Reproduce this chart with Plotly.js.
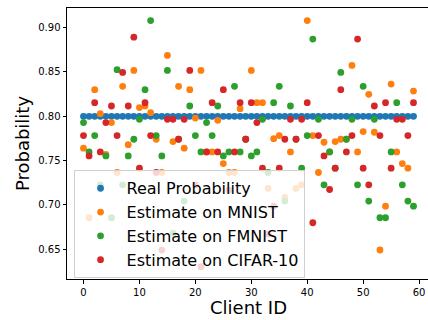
<!DOCTYPE html>
<html>
<head>
<meta charset="utf-8">
<script src="https://cdn.plot.ly/plotly-3.0.1.min.js"></script>
<style>
html,body{margin:0;padding:0;overflow:hidden;background:#fff;}
#chart{width:431px;height:320px;}
</style>
</head>
<body>
<div id="chart"></div>
<script>
var clientIds = [0,1,2,3,4,5,6,7,8,9,10,11,12,13,14,15,16,17,18,19,20,21,22,23,24,25,26,27,28,29,
                 30,31,32,33,34,35,36,37,38,39,40,41,42,43,44,45,46,47,48,49,50,51,52,53,54,55,56,57,58,59];
var realProb = [0.8,0.8,0.8,0.8,0.8,0.8,0.8,0.8,0.8,0.8,0.8,0.8,0.8,0.8,0.8,0.8,0.8,0.8,0.8,0.8,
                0.8,0.8,0.8,0.8,0.8,0.8,0.8,0.8,0.8,0.8,0.8,0.8,0.8,0.8,0.8,0.8,0.8,0.8,0.8,0.8,
                0.8,0.8,0.8,0.8,0.8,0.8,0.8,0.8,0.8,0.8,0.8,0.8,0.8,0.8,0.8,0.8,0.8,0.8,0.8,0.8];
var estMnist = [0.764,0.6855,0.830,0.803,0.757,0.7929,0.7366,0.8338,0.768,0.8518,
                0.8098,0.8116,0.8041,0.7741,0.7366,0.8687,0.7715,0.8338,0.764,0.830,
                0.798,0.8518,0.7598,0.7598,0.7955,0.7467,0.7366,0.7366,0.8086,0.7741,
                0.8518,0.8154,0.8154,0.7186,0.7748,0.7782,0.7084,0.7598,0.7186,0.7227,
                0.908,0.7782,0.7366,0.7707,0.7598,0.7715,0.7741,0.7741,0.8574,0.7598,
                0.7827,0.8248,0.782,0.6491,0.6986,0.8364,0.7598,0.7467,0.7414,0.8285];
var estFmnist = [0.7929,0.7598,0.7782,0.7227,0.7553,0.6855,0.8526,0.7227,0.7553,0.7741,
                 0.7966,0.830,0.908,0.7782,0.7553,0.8518,0.668,0.7741,0.7043,0.8116,
                 0.7782,0.7598,0.7929,0.7782,0.8116,0.7553,0.7598,0.8338,0.7598,0.7741,
                 0.7553,0.7598,0.7966,0.7366,0.8154,0.8338,0.7043,0.8116,0.7741,0.7414,
                 0.7782,0.8871,0.7966,0.7227,0.7598,0.7414,0.8495,0.7741,0.7966,0.7227,
                 0.8338,0.7043,0.7966,0.6855,0.6855,0.7598,0.8154,0.7227,0.7043,0.6986];
var estCifar = [0.7782,0.7553,0.8154,0.7598,0.7929,0.8116,0.7782,0.8495,0.8116,0.8893,
                0.7414,0.8154,0.7782,0.7366,0.649,0.7966,0.7966,0.7741,0.7966,0.8518,
                0.7227,0.6303,0.7598,0.8154,0.7598,0.830,0.7167,0.7598,0.8154,0.7741,
                0.8154,0.7929,0.7414,0.6671,0.6986,0.7414,0.7741,0.7966,0.7741,0.7966,
                0.8154,0.6799,0.7782,0.7553,0.7174,0.7414,0.830,0.7598,0.7782,0.8871,
                0.7414,0.7227,0.8116,0.7782,0.8154,0.7414,0.7966,0.7966,0.7782,0.8154];
var seriesNames = ["Real Probability","Estimate on MNIST","Estimate on FMNIST","Estimate on CIFAR-10"];
var seriesColors = ["#1f77b4","#ff7f0e","#2ca02c","#d62728"];
var seriesValues = [realProb, estMnist, estFmnist, estCifar];

var font = "DejaVu Sans, Liberation Sans, sans-serif";
var traces = seriesValues.map(function(vals, k){
  return {
    type: "scatter", mode: "markers",
    x: clientIds, y: vals, name: seriesNames[k],
    marker: {color: seriesColors[k], size: 6.8, line: {width: 0}},
    hoverinfo: "skip"
  };
});

var layout = {
  width: 431, height: 320,
  margin: {l: 66.5, r: 1, t: 7.5, b: 41},
  paper_bgcolor: "#fff", plot_bgcolor: "#fff",
  font: {family: font, color: "#000", size: 10},
  showlegend: true,
  legend: {
    x: 0.018, y: 0.401, xanchor: "left", yanchor: "top",
    bgcolor: "rgba(255,255,255,0.8)", bordercolor: "#d0d0d0", borderwidth: 1,
    font: {family: font, size: 16, color: "#000"},
    itemwidth: 42, traceorder: "normal"
  },
  xaxis: {
    range: [-2.95, 61.95], tickvals: [0,10,20,30,40,50,60], ticktext: ["0","10","20","30","40","50","60"],
    showgrid: false, zeroline: false, showline: true, linecolor: "#000", linewidth: 1, mirror: true,
    ticks: "outside", ticklen: 3.5, tickwidth: 1, tickcolor: "#000",
    tickfont: {family: font, size: 10, color: "#000"},
    title: {text: "Client ID", font: {family: font, size: 18, color: "#000"}, standoff: 2}
  },
  yaxis: {
    range: [0.6164, 0.9222], tickvals: [0.65,0.70,0.75,0.80,0.85,0.90],
    ticktext: ["0.65","0.70","0.75","0.80","0.85","0.90"],
    showgrid: false, zeroline: false, showline: true, linecolor: "#000", linewidth: 1, mirror: true,
    ticks: "outside", ticklen: 3.5, tickwidth: 1, tickcolor: "#000",
    tickfont: {family: font, size: 10, color: "#000"},
    title: {text: "Probability", font: {family: font, size: 18, color: "#000"}, standoff: 3}
  }
};
Plotly.newPlot("chart", traces, layout, {staticPlot: true, displayModeBar: false});
</script>
</body>
</html>
